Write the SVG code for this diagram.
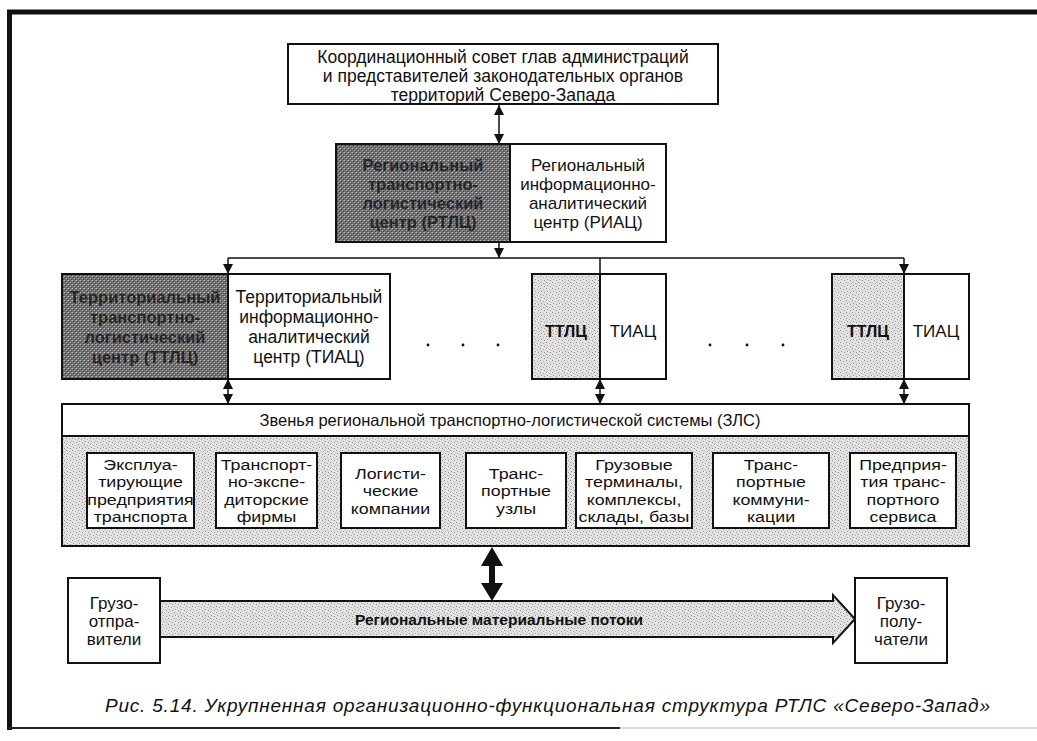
<svg xmlns="http://www.w3.org/2000/svg" width="1037" height="741" viewBox="0 0 1037 741">
  <style>
    .box { fill: #ffffff; stroke: #111; stroke-width: 2; }
    .dark { fill: url(#darkStipple); stroke: #111; stroke-width: 2; }
    .light { fill: url(#lightStipple); stroke: #111; stroke-width: 2; }
    .t { font-family: "Liberation Sans", Arial, sans-serif; font-size: 17px; fill: #111; text-anchor: middle; }
    .ti { font-family: "Liberation Sans", Arial, sans-serif; font-size: 15.5px; fill: #111; text-anchor: middle; }
    .tb { font-family: "Liberation Sans", Arial, sans-serif; font-size: 16px; font-weight: bold; fill: #111; text-anchor: middle; }
    .tdark { font-family: "Liberation Sans", Arial, sans-serif; font-size: 16.5px; font-weight: bold; fill: #262626; text-anchor: middle; }
    .line { stroke: #111; stroke-width: 1.5; fill: none; }
    .dot { fill: #111; }
  </style>
  <defs>
    <pattern id="lightStipple" width="6" height="6" patternUnits="userSpaceOnUse">
      <rect width="6" height="6" fill="#e2e2e2"/>
      <rect x="0" y="0" width="1" height="1" fill="#8c8c8c"/>
      <rect x="3" y="1" width="1" height="1" fill="#a6a6a6"/>
      <rect x="1" y="3" width="1" height="1" fill="#9a9a9a"/>
      <rect x="4" y="4" width="1" height="1" fill="#8f8f8f"/>
      <rect x="5" y="2" width="1" height="1" fill="#c4c4c4"/>
    </pattern>
    <pattern id="darkStipple" width="4" height="4" patternUnits="userSpaceOnUse">
      <rect width="4" height="4" fill="#6e6e6e"/>
      <rect x="0" y="0" width="1" height="1" fill="#c0c0c0"/>
      <rect x="2" y="2" width="1" height="1" fill="#b0b0b0"/>
      <rect x="1" y="1" width="1" height="1" fill="#3e3e3e"/>
      <rect x="3" y="3" width="1" height="1" fill="#444"/>
      <rect x="3" y="0" width="1" height="1" fill="#929292"/>
    </pattern>
    <marker id="head" viewBox="0 0 10 10" refX="10" refY="5" markerWidth="10" markerHeight="10" markerUnits="userSpaceOnUse" orient="auto-start-reverse">
      <path d="M0,0 L10,5 L0,10 Z" fill="#111"/>
    </marker>
  </defs>

  <!-- page frame -->
  <g id="frame">
    <line x1="7" y1="12" x2="1037" y2="12" stroke="#111" stroke-width="5"/>
    <line x1="9.5" y1="10" x2="9.5" y2="730" stroke="#111" stroke-width="5"/>
    <line x1="7" y1="728" x2="620" y2="728" stroke="#222" stroke-width="2"/>
    <line x1="620" y1="728" x2="1037" y2="728" stroke="#bbb" stroke-width="1"/>
  </g>

  <!-- connectors -->
  <g id="connectors">
    <line class="line" x1="499" y1="105" x2="499" y2="144" marker-start="url(#head)" marker-end="url(#head)"/>
    <line class="line" x1="499" y1="242" x2="499" y2="258" marker-end="url(#head)"/>
    <line class="line" x1="228" y1="258" x2="904" y2="258"/>
    <line class="line" x1="228" y1="258" x2="228" y2="274" marker-end="url(#head)"/>
    <line class="line" x1="600" y1="258" x2="600" y2="274"/>
    <line class="line" x1="904" y1="258" x2="904" y2="274" marker-end="url(#head)"/>
    <line class="line" x1="228" y1="379" x2="228" y2="404" marker-start="url(#head)" marker-end="url(#head)"/>
    <line class="line" x1="600" y1="379" x2="600" y2="404" marker-start="url(#head)" marker-end="url(#head)"/>
    <line class="line" x1="904" y1="379" x2="904" y2="404" marker-start="url(#head)" marker-end="url(#head)"/>
    <!-- heavy two-way link between the system links and the material flows -->
    <path d="M492,547 L503,566 L495,566 L495,583 L503,583 L492,601 L481,583 L489,583 L489,566 L481,566 Z" fill="#111"/>
  </g>

  <!-- coordination council -->
  <g id="council">
    <rect class="box" x="288" y="44" width="430" height="60"/>
    <text class="t" x="503" y="63" style="font-size:17.5px">Координационный совет глав администраций</text>
    <text class="t" x="503" y="82" style="font-size:17.5px">и представителей законодательных органов</text>
    <text class="t" x="503" y="101" style="font-size:17.5px">территорий Северо-Запада</text>
  </g>

  <!-- regional centres -->
  <g id="rtlc">
    <rect class="dark" x="336" y="144" width="174" height="98"/>
    <text class="tdark" x="423" y="171">Региональный</text>
    <text class="tdark" x="423" y="190">транспортно-</text>
    <text class="tdark" x="423" y="209">логистический</text>
    <text class="tdark" x="423" y="228">центр (РТЛЦ)</text>
  </g>
  <g id="riac">
    <rect class="box" x="510" y="144" width="156" height="98"/>
    <text class="t" x="588" y="171">Региональный</text>
    <text class="t" x="588" y="190">информационно-</text>
    <text class="t" x="588" y="209">аналитический</text>
    <text class="t" x="588" y="228">центр (РИАЦ)</text>
  </g>

  <!-- territorial centres -->
  <g id="ttlc-1">
    <rect class="dark" x="62" y="274" width="166" height="105"/>
    <text class="tdark" x="145" y="303">Территориальный</text>
    <text class="tdark" x="145" y="323">транспортно-</text>
    <text class="tdark" x="145" y="343">логистический</text>
    <text class="tdark" x="145" y="363">центр (ТТЛЦ)</text>
  </g>
  <g id="tiac-1">
    <rect class="box" x="228" y="274" width="162" height="105"/>
    <text class="t" x="309" y="303" style="font-size:17.5px">Территориальный</text>
    <text class="t" x="309" y="323" style="font-size:17.5px">информационно-</text>
    <text class="t" x="309" y="343" style="font-size:17.5px">аналитический</text>
    <text class="t" x="309" y="363" style="font-size:17.5px">центр (ТИАЦ)</text>
  </g>
  <g id="ellipsis-1">
    <circle class="dot" cx="428" cy="345" r="1.4"/>
    <circle class="dot" cx="463" cy="345" r="1.4"/>
    <circle class="dot" cx="498" cy="345" r="1.4"/>
  </g>
  <g id="ttlc-2">
    <rect class="light" x="532" y="274" width="68" height="105"/>
    <text class="tb" x="566" y="337">ТТЛЦ</text>
  </g>
  <g id="tiac-2">
    <rect class="box" x="600" y="274" width="66" height="105"/>
    <text class="t" x="633" y="337">ТИАЦ</text>
  </g>
  <g id="ellipsis-2">
    <circle class="dot" cx="710" cy="345" r="1.4"/>
    <circle class="dot" cx="747" cy="345" r="1.4"/>
    <circle class="dot" cx="783" cy="345" r="1.4"/>
  </g>
  <g id="ttlc-3">
    <rect class="light" x="832" y="274" width="72" height="105"/>
    <text class="tb" x="868" y="337">ТТЛЦ</text>
  </g>
  <g id="tiac-3">
    <rect class="box" x="904" y="274" width="65" height="105"/>
    <text class="t" x="936" y="337">ТИАЦ</text>
  </g>

  <!-- links of the regional transport-logistics system -->
  <g id="zls">
    <rect class="box" x="62" y="404" width="907" height="32"/>
    <text class="t" x="510" y="426" style="font-size:16.5px">Звенья региональной транспортно-логистической системы (ЗЛС)</text>
    <rect class="light" x="62" y="436" width="907" height="110"/>
  </g>
  <!-- link boxes: labels are set in a slightly widened face -->
  <g id="zls-1">
    <rect class="box" x="87" y="453" width="107" height="75"/>
    <g transform="translate(140.5 0) scale(1.15 1)">
      <text class="ti" x="0" y="470">Эксплуа-</text>
      <text class="ti" x="0" y="487.5">тирующие</text>
      <text class="ti" x="0" y="505">предприятия</text>
      <text class="ti" x="0" y="522.5">транспорта</text>
    </g>
  </g>
  <g id="zls-2">
    <rect class="box" x="216" y="453" width="101" height="75"/>
    <g transform="translate(266.5 0) scale(1.15 1)">
      <text class="ti" x="0" y="470">Транспорт-</text>
      <text class="ti" x="0" y="487.5">но-экспе-</text>
      <text class="ti" x="0" y="505">диторские</text>
      <text class="ti" x="0" y="522.5">фирмы</text>
    </g>
  </g>
  <g id="zls-3">
    <rect class="box" x="341" y="453" width="99" height="75"/>
    <g transform="translate(390.5 0) scale(1.15 1)">
      <text class="ti" x="0" y="479">Логисти-</text>
      <text class="ti" x="0" y="496.5">ческие</text>
      <text class="ti" x="0" y="514">компании</text>
    </g>
  </g>
  <g id="zls-4">
    <rect class="box" x="466" y="453" width="100" height="75"/>
    <g transform="translate(516 0) scale(1.15 1)">
      <text class="ti" x="0" y="479">Транс-</text>
      <text class="ti" x="0" y="496.5">портные</text>
      <text class="ti" x="0" y="514">узлы</text>
    </g>
  </g>
  <g id="zls-5">
    <rect class="box" x="576" y="453" width="116" height="75"/>
    <g transform="translate(634 0) scale(1.15 1)">
      <text class="ti" x="0" y="470">Грузовые</text>
      <text class="ti" x="0" y="487.5">терминалы,</text>
      <text class="ti" x="0" y="505">комплексы,</text>
      <text class="ti" x="0" y="522.5">склады, базы</text>
    </g>
  </g>
  <g id="zls-6">
    <rect class="box" x="713" y="453" width="116" height="75"/>
    <g transform="translate(771 0) scale(1.15 1)">
      <text class="ti" x="0" y="470">Транс-</text>
      <text class="ti" x="0" y="487.5">портные</text>
      <text class="ti" x="0" y="505">коммуни-</text>
      <text class="ti" x="0" y="522.5">кации</text>
    </g>
  </g>
  <g id="zls-7">
    <rect class="box" x="850" y="453" width="106" height="75"/>
    <g transform="translate(903 0) scale(1.15 1)">
      <text class="ti" x="0" y="470">Предприя-</text>
      <text class="ti" x="0" y="487.5">тия транс-</text>
      <text class="ti" x="0" y="505">портного</text>
      <text class="ti" x="0" y="522.5">сервиса</text>
    </g>
  </g>

  <!-- material flows -->
  <g id="flow">
    <path d="M160,601 L833,601 L833,595 L855,619 L833,643 L833,637 L160,637 Z" fill="url(#lightStipple)" stroke="#111" stroke-width="2" stroke-linejoin="miter"/>
    <text class="tb" x="499" y="625" style="font-size:15.5px">Региональные материальные потоки</text>
  </g>
  <g id="shippers">
    <rect class="box" x="68" y="578" width="92" height="85"/>
    <text class="t" x="114" y="609">Грузо-</text>
    <text class="t" x="114" y="627">отпра-</text>
    <text class="t" x="114" y="645">вители</text>
  </g>
  <g id="consignees">
    <rect class="box" x="855" y="578" width="92" height="85"/>
    <text class="t" x="901" y="609">Грузо-</text>
    <text class="t" x="901" y="627">полу-</text>
    <text class="t" x="901" y="645">чатели</text>
  </g>

  <g id="caption">
    <text x="105" y="712" textLength="885" lengthAdjust="spacing" style="font-family:'Liberation Sans', Arial, sans-serif; font-size:19px; font-style:italic; fill:#111">Рис. 5.14. Укрупненная организационно-функциональная структура РТЛС «Северо-Запад»</text>
  </g>
</svg>
